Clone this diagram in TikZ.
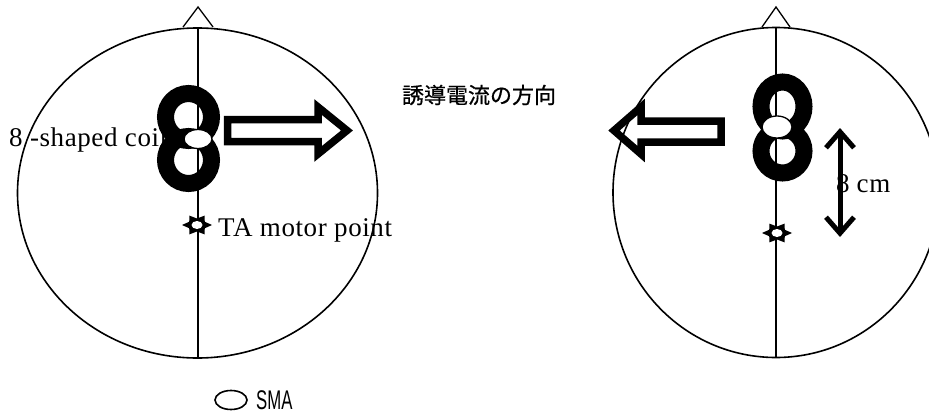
\documentclass[tikz,border=0pt]{standalone}
\usepackage{fontspec}
\usepackage{graphicx}
\setmainfont{Liberation Serif}
\newfontfamily\jpfont[FakeBold=0.6]{Noto Sans CJK JP}
\newfontfamily\legendfont{Liberation Sans}
\usetikzlibrary{arrows.meta}
\begin{document}
\begin{tikzpicture}[x=1pt,y=-1pt,
  lbl/.style={inner sep=0pt, anchor=base west, font=\fontsize{27}{30}\selectfont\addfontfeature{LetterSpace=2.2}},
  headline/.style={line width=1.6pt},
  coilring/.style={line width=17pt},
  smamark/.style={line width=1.3pt, fill=white},
  blockarrow/.style={line width=7.5pt, miter limit=10, line join=miter},
  tastar/.pic={
    \fill[yscale=0.72] (0:15pt) -- (30:9pt) -- (60:15pt) -- (90:9pt) -- (120:15pt) -- (150:9pt) -- (180:15pt) -- (210:9pt) -- (240:15pt) -- (270:9pt) -- (300:15pt) -- (330:9pt) -- cycle;
    \fill[white] (0,0) ellipse [x radius=5.5pt, y radius=4pt];
  }]
\useasboundingbox (0,0) rectangle (929,415);

% ---- labels behind lines ----
\node[lbl] (coillbl) at (9,146) {8 -shaped coil};
\node[lbl] (talbl) at (218,236) {TA motor point};
\node[lbl] (distlbl) at (836,192) {8\hspace{7pt}cm};

% ---- left head ----
\draw[headline] (197.5,193) ellipse [x radius=180pt, y radius=165pt];
\coordinate (ltop) at (198,28);
\coordinate (lbot) at (198,358);
\draw[line width=1.5pt] (ltop) -- (lbot);
\draw[line width=1.3pt, line join=miter] (183,27) -- (198,7) -- (213,27);

% ---- right head ----
\draw[headline] (776,192.5) ellipse [x radius=163pt, y radius=165pt];
\coordinate (rtop) at (776,28);
\coordinate (rbot) at (776,357);
\draw[line width=1.5pt] (rtop) -- (rbot);
\draw[line width=1.3pt, line join=miter] (762,27) -- (776,7) -- (790,27);

% ---- coils ----
\draw[coilring] (188.5,117) ellipse [x radius=23pt, y radius=23.5pt];
\draw[coilring] (188.5,160) ellipse [x radius=23pt, y radius=23.5pt];
\draw[smamark] (198,139) ellipse [x radius=14pt, y radius=9.5pt];

\draw[coilring] (782.5,106.5) ellipse [x radius=21.5pt, y radius=24.5pt];
\draw[coilring] (782.5,151) ellipse [x radius=21.5pt, y radius=22pt];
\draw[smamark] (777,127) ellipse [x radius=15pt, y radius=11pt];

% ---- induced current arrows ----
\draw[blockarrow] (227.5,119.5) -- (318,119.5) -- (318,107) -- (347,130.5) -- (318,154) -- (318,141.5) -- (227.5,141.5) -- cycle;
\draw[blockarrow] (721,121) -- (641,121) -- (641,107) -- (614,130.5) -- (641,154) -- (641,142) -- (721,142) -- cycle;

% ---- TA motor points ----
\pic at (197,225) {tastar};
\pic at (777,233) {tastar};

% ---- distance arrow ----
\coordinate (dtop) at (840,128);
\coordinate (dbot) at (840,237);
\draw[line width=5pt, {Straight Barb[length=16pt,width=28pt]}-{Straight Barb[length=16pt,width=28pt]}] (dtop) -- (dbot);

% ---- caption and legend ----
\node[inner sep=0pt, font=\jpfont\fontsize{22}{24}\selectfont] (jplbl) at (479,95) {誘導電流の方向};
\draw[line width=1.6pt] (231,400) ellipse [x radius=16pt, y radius=9.5pt];
\node[inner sep=0pt, anchor=base west, font=\legendfont\fontsize{27}{28}\selectfont] (smalbl) at (256,409) {\scalebox{0.62}[1]{SMA}};
\end{tikzpicture}
\end{document}
